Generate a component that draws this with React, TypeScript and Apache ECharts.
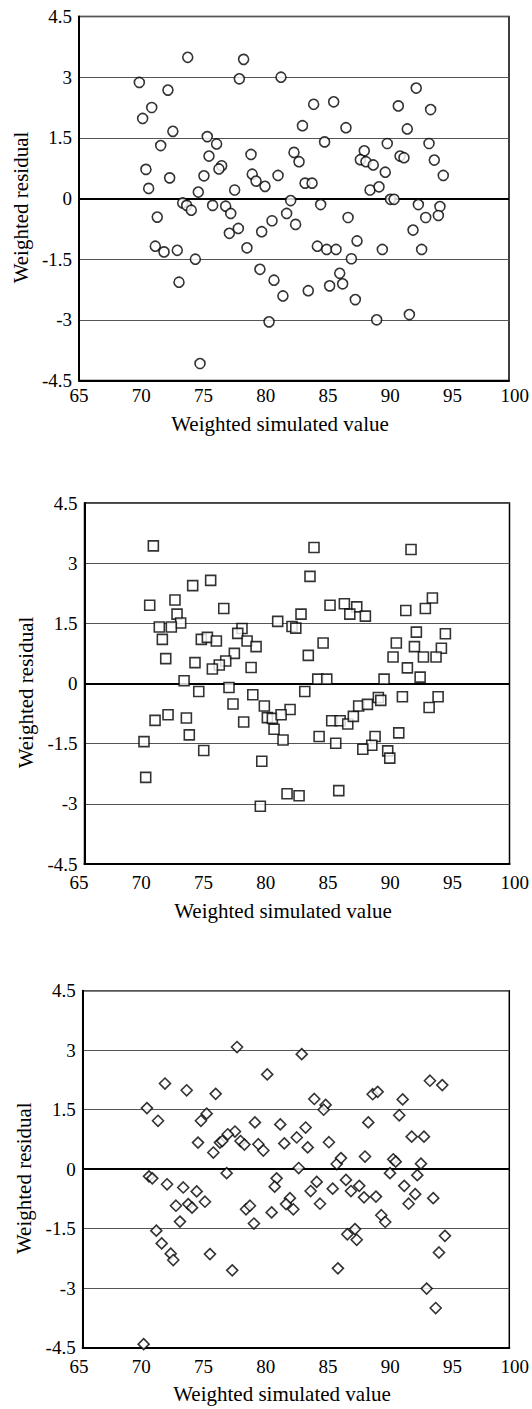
import React, { useEffect, useRef } from "react";
import * as echarts from "echarts";

const xTitle = "Weighted simulated value";
const yTitle = "Weighted residual";
const xMin = 65, xMax = 100, xStep = 5;
const yMin = -4.5, yMax = 4.5, yStep = 1.5;

// Panel 1 (circles): [weighted simulated value, weighted residual]
const circlePoints: [number, number][] = [
  [69.91,2.87],[73.85,3.49],[78.40,3.44],[78.05,2.96],[72.24,2.68],[70.92,2.25],[70.18,1.98],[72.64,1.66],[75.44,1.53],[71.65,1.31],[76.2,1.35],[79.0,1.09],[75.58,1.05],[76.61,0.81],[76.39,0.73],[70.45,0.72],[72.38,0.51],[75.17,0.56],[79.1,0.60],[79.41,0.43],[80.14,0.30],[70.67,0.25],[74.71,0.16],[77.67,0.21],
  [81.44,3.00],[92.45,2.73],[84.10,2.33],[85.73,2.39],[90.99,2.29],[93.62,2.20],[83.19,1.80],[86.73,1.75],[91.72,1.72],[84.99,1.40],[90.09,1.36],[93.49,1.36],[88.22,1.18],[82.5,1.14],[82.91,0.91],[87.90,0.96],[88.36,0.91],[88.95,0.83],[91.13,1.05],[91.45,1.01],[93.92,0.95],[89.93,0.65],[81.20,0.57],[94.65,0.57],[83.40,0.38],[83.97,0.38],[88.69,0.21],[89.42,0.29],[82.23,-0.05],[90.35,-0.02],[90.65,-0.02],
  [73.44,-0.11],[73.77,-0.17],[74.14,-0.29],[71.37,-0.46],[75.88,-0.17],[76.94,-0.19],[77.35,-0.37],[77.24,-0.86],[77.97,-0.74],[79.87,-0.82],[80.71,-0.55],[71.21,-1.18],[71.92,-1.32],[73.0,-1.28],[74.47,-1.50],[78.67,-1.22],[73.14,-2.07],[79.73,-1.75],[80.87,-2.02],[80.47,-3.05],[74.85,-4.08],
  [84.67,-0.15],[81.9,-0.37],[82.63,-0.64],[86.9,-0.47],[87.63,-1.05],[84.40,-1.18],[85.16,-1.26],[85.92,-1.26],[87.17,-1.49],[89.69,-1.26],[92.89,-1.26],[92.19,-0.78],[92.62,-0.15],[93.22,-0.47],[94.38,-0.20],[94.25,-0.42],[86.22,-1.85],[85.4,-2.16],[86.46,-2.11],[83.66,-2.28],[81.6,-2.41],[87.49,-2.50],[89.23,-3.0],[91.89,-2.87],
];

// Panel 2 (squares)
const squarePoints: [number, number][] = [
  [70.67,3.43],[75.39,2.57],[73.91,2.44],[72.45,2.08],[70.37,1.95],[76.47,1.87],[72.62,1.73],[72.92,1.51],[71.16,1.41],[72.15,1.41],[77.97,1.37],[77.62,1.25],[71.41,1.10],[74.62,1.10],[75.12,1.15],[75.86,1.06],[78.39,1.06],[79.13,0.92],[77.34,0.75],[76.63,0.56],[76.10,0.46],[71.69,0.62],[74.10,0.52],[78.72,0.40],[75.53,0.36],
  [73.20,0.07],[74.41,-0.20],[76.9,-0.10],[77.23,-0.51],[78.86,-0.28],[79.81,-0.56],[70.81,-0.92],[71.88,-0.78],[73.39,-0.86],[78.11,-0.96],[73.63,-1.28],[69.90,-1.45],[74.82,-1.67],[79.60,-1.94],[70.04,-2.34],[79.48,-3.06],[80.06,-0.85],[80.47,-0.87],
  [83.90,3.39],[91.89,3.34],[83.57,2.67],[93.65,2.13],[85.22,1.95],[86.40,1.99],[87.42,1.91],[86.85,1.73],[88.13,1.68],[91.46,1.82],[93.07,1.87],[82.83,1.73],[80.91,1.55],[82.09,1.42],[82.40,1.38],[92.33,1.28],[94.72,1.24],[84.65,1.01],[90.68,1.01],[92.17,0.92],[94.39,0.88],[83.43,0.70],[90.41,0.66],[92.91,0.66],[93.95,0.66],[91.59,0.39],
  [84.21,0.11],[84.95,0.11],[89.67,0.11],[92.64,0.16],[83.14,-0.20],[81.93,-0.65],[81.19,-0.78],[80.61,-1.14],[81.35,-1.41],[85.36,-0.93],[86.05,-0.93],[86.68,-1.01],[87.14,-0.82],[87.58,-0.56],[88.30,-0.52],[89.2,-0.35],[89.40,-0.42],[91.18,-0.33],[94.12,-0.33],[93.38,-0.60],[84.32,-1.32],[85.69,-1.49],[88.93,-1.32],[88.66,-1.54],[87.92,-1.64],[89.97,-1.68],[90.14,-1.86],[90.88,-1.23],[85.94,-2.67],[81.68,-2.75],[82.67,-2.80],
];

// Panel 3 (diamonds)
const diamondPoints: [number, number][] = [
  [77.66,3.08],[71.75,2.16],[73.53,1.99],[75.91,1.90],[70.27,1.54],[71.18,1.22],[75.17,1.40],[74.70,1.22],[79.13,1.18],[77.49,0.95],[76.90,0.88],[76.26,0.67],[76.45,0.71],[74.46,0.67],[77.95,0.71],[78.27,0.62],[79.41,0.63],[79.82,0.47],[75.72,0.42],[80.14,2.39],[82.97,2.90],
  [76.81,-0.10],[70.44,-0.18],[70.71,-0.23],[71.92,-0.38],[73.25,-0.46],[74.35,-0.56],[75.03,-0.82],[72.65,-0.92],[73.66,-0.88],[73.97,-0.97],[72.98,-1.32],[78.40,-1.01],[78.72,-0.92],[79.05,-1.37],[80.50,-1.09],[71.04,-1.55],[71.48,-1.87],[72.22,-2.13],[72.43,-2.29],[75.44,-2.14],[77.27,-2.55],[70.0,-4.41],
  [81.54,0.65],[83.46,0.55],[85.2,0.68],[82.72,0.03],[80.91,-0.23],[80.75,-0.44],[82.0,-0.73],[81.68,-0.88],[82.28,-1.01],[83.70,-0.55],[84.2,-0.32],[84.47,-0.87],[85.51,-0.49],[85.84,0.13],[86.19,0.28],[88.16,0.32],[86.60,-0.27],[87.01,-0.55],[87.69,-0.42],[88.08,-0.71],[89.06,-0.69],[90.21,-0.10],[90.48,0.25],[90.68,0.19],[92.75,0.14],[92.45,-0.15],[91.38,-0.42],[92.28,-0.63],[91.74,-0.87],[93.76,-0.73],[89.50,-1.16],[89.82,-1.33],[86.71,-1.64],[87.34,-1.51],[87.48,-1.78],[94.72,-1.68],[94.23,-2.10],[85.94,-2.50],[93.22,-3.01],[93.96,-3.50],
  [93.49,2.23],[94.5,2.12],[88.79,1.89],[89.2,1.95],[91.25,1.76],[84.0,1.77],[84.93,1.62],[84.77,1.50],[88.43,1.18],[90.97,1.36],[81.21,1.13],[83.29,1.05],[82.56,0.80],[91.99,0.82],[93.0,0.82],
];

const FONT = "'Liberation Serif', 'Times New Roman', serif";

const panels = [
  { data: circlePoints, symbol: "circle", size: 10, labelGap: 5, titleGap: 33, grid: { left: 79, top: 16.5, width: 430, height: 364 } },
  { data: squarePoints, symbol: "rect", size: 10, labelGap: 9, titleGap: 36, grid: { left: 84.5, top: 503, width: 425, height: 361 } },
  { data: diamondPoints, symbol: "diamond", size: 11, labelGap: 9, titleGap: 36, grid: { left: 82.7, top: 990.7, width: 426.6, height: 357 } },
];
// tick-label rows of the original are spread a little wider than the plot frames
const labelRow = { left: 79, width: 436 };

export default function App() {
  const ref = useRef<HTMLDivElement>(null);
  useEffect(() => {
    if (!ref.current) return;
    const chart = echarts.init(ref.current, undefined, { renderer: "svg" });
    const n = panels.length;
    const option: any = {
      animation: false,
      backgroundColor: "#fff",
      grid: [
        ...panels.map((p) => ({ ...p.grid, show: true, borderColor: "#000", borderWidth: 1.5, backgroundColor: "transparent" })),
        ...panels.map((p) => ({ left: labelRow.left, width: labelRow.width, top: p.grid.top, height: p.grid.height, show: false })),
      ],
      xAxis: [
        ...panels.map((p, i) => ({
          type: "value",
          gridIndex: i,
          min: xMin,
          max: xMax,
          interval: xStep,
          name: xTitle,
          nameLocation: "middle",
          nameGap: p.titleGap,
          nameTextStyle: { fontFamily: FONT, fontSize: 21, color: "#000", padding: [0, 28, 0, 0] },
          axisLine: { show: true, onZero: false, lineStyle: { color: "#000", width: 2 } },
          axisTick: { show: false },
          splitLine: { show: false },
          axisLabel: { show: false },
        })),
        ...panels.map((p, i) => ({
          type: "value",
          gridIndex: n + i,
          min: xMin,
          max: xMax,
          interval: xStep,
          axisLine: { show: false },
          axisTick: { show: false },
          splitLine: { show: false },
          axisLabel: { fontFamily: FONT, fontSize: 19, color: "#000", margin: p.labelGap },
        })),
      ],
      yAxis: [
        ...panels.map((_, i) => ({
          type: "value",
          gridIndex: i,
          min: yMin,
          max: yMax,
          interval: yStep,
          name: yTitle,
          nameLocation: "middle",
          nameGap: 46,
          nameTextStyle: { fontFamily: FONT, fontSize: 21, color: "#000", padding: [0, 18, 0, 0] },
          axisLine: { show: true, onZero: false, lineStyle: { color: "#000", width: 2 } },
          axisTick: { show: false },
          splitLine: { show: true, lineStyle: { color: "#555", width: 1.2 } },
          axisLabel: { fontFamily: FONT, fontSize: 19, color: "#000", margin: 7 },
        })),
        ...panels.map((_, i) => ({
          type: "value",
          gridIndex: n + i,
          min: yMin,
          max: yMax,
          interval: yStep,
          show: false,
        })),
      ],
      series: panels.map((p, i) => ({
        type: "scatter",
        xAxisIndex: i,
        yAxisIndex: i,
        data: p.data,
        symbol: p.symbol,
        symbolSize: p.size,
        itemStyle: { color: "#fff", borderColor: "#000", borderWidth: 1.6 },
        markLine: {
          silent: true,
          symbol: "none",
          label: { show: false },
          lineStyle: { color: "#000", width: 2, type: "solid" },
          data: [{ yAxis: 0 }],
          z: 1,
        },
        z: 3,
      })),
    };
    chart.setOption(option);
    return () => chart.dispose();
  }, []);
  return (
    <div
      ref={ref}
      style={{ position: "absolute", left: 0, top: 0, width: 532, height: 1409, background: "#fff" }}
    />
  );
}
